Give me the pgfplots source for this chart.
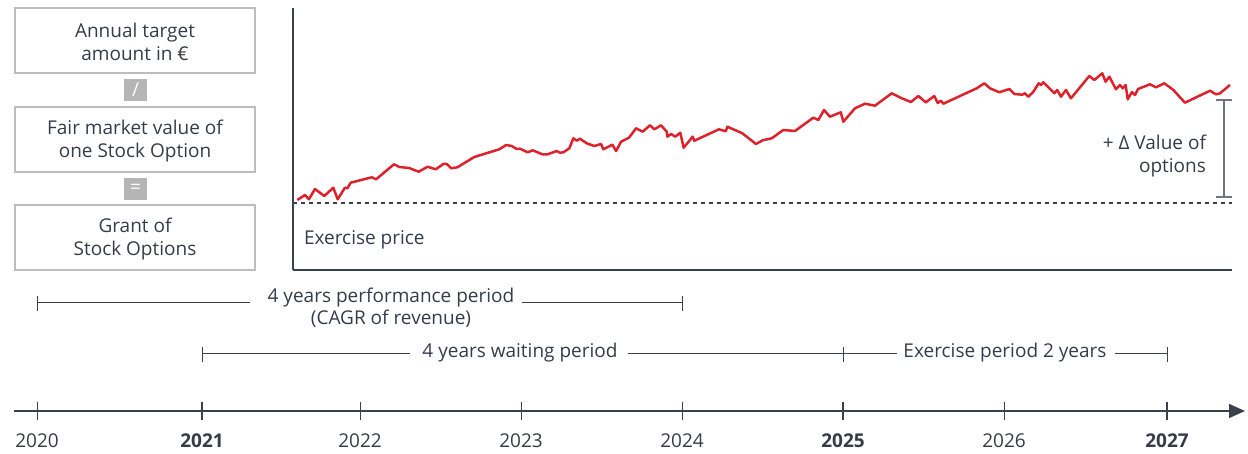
\documentclass[border=0pt]{standalone}
\usepackage{fontspec}
\setmainfont{Open Sans}
\usepackage{pgfplots}
\pgfplotsset{compat=1.18}
\usetikzlibrary{arrows.meta}
\definecolor{txt}{HTML}{353C48}
\definecolor{axcol}{HTML}{3A414C}
\definecolor{boxgray}{HTML}{BDBDBD}
\definecolor{opgray}{HTML}{B5B5B5}
\definecolor{brgray}{HTML}{6E7580}
\definecolor{pricered}{RGB}{222,34,44}
\begin{document}
\begin{tikzpicture}[font=\fontsize{9.5}{11.2}\selectfont, every node/.style={text=txt}]
\begin{axis}[at={(146.5pt,-135pt)}, anchor=south west, scale only axis,
  width=469.5pt, height=131pt,
  xmin=2021.584, xmax=2027.4055, ymin=0, ymax=262,
  axis x line=bottom, axis y line=left,
  axis line style={-, draw=axcol, line width=0.6pt},
  xtick=\empty, ytick=\empty, clip=false]
\addplot[pricered, line width=1.25pt, line join=round, mark=none] coordinates {
(2021.611,70) (2021.658,75) (2021.683,70.7) (2021.720,81) (2021.778,74)
(2021.834,82.3) (2021.861,70.7) (2021.906,82.3) (2021.921,81.7) (2021.942,87.3)
(2022.072,92.7) (2022.099,90.7) (2022.210,105.7) (2022.243,103) (2022.303,102)
(2022.363,98.3) (2022.419,103.3) (2022.469,100.7) (2022.516,106) (2022.537,106)
(2022.565,101.7) (2022.603,102.7) (2022.708,113) (2022.863,120.7) (2022.905,125)
(2022.940,124) (2022.971,121) (2022.991,121.3) (2023.039,117.7) (2023.070,119.7)
(2023.130,115.7) (2023.163,115.7) (2023.219,119) (2023.239,117.3) (2023.260,117.7)
(2023.297,121.7) (2023.322,131.7) (2023.343,129.3) (2023.363,131.3) (2023.405,126.7)
(2023.452,124) (2023.494,126) (2023.508,120.7) (2023.564,125.3) (2023.587,119)
(2023.618,128.3) (2023.667,132.3) (2023.711,141.7) (2023.752,138.3) (2023.797,144.7)
(2023.824,140.7) (2023.866,144.7) (2023.901,138.3) (2023.905,133.3) (2023.928,136)
(2023.954,133.3) (2023.985,137.3) (2024.006,122.3) (2024.062,133.3) (2024.072,129.3)
(2024.225,140.7) (2024.267,138.7) (2024.277,143.3) (2024.370,136.7) (2024.454,126)
(2024.496,129.7) (2024.552,131.7) (2024.624,140) (2024.696,139) (2024.810,152.3)
(2024.841,150) (2024.876,160) (2024.913,153.3) (2024.980,157.7) (2024.996,148.3)
(2025.068,161.7) (2025.130,166.3) (2025.192,164.3) (2025.296,176.7) (2025.358,171.7)
(2025.415,168) (2025.461,174) (2025.507,167.7) (2025.560,174) (2025.581,167)
(2025.601,169.3) (2025.616,166.3) (2025.823,181.7) (2025.870,186.7) (2025.905,181.7)
(2025.963,177.7) (2026.025,181) (2026.056,176) (2026.105,175.3) (2026.122,176.7)
(2026.143,173.3) (2026.174,178.3) (2026.207,186.7) (2026.221,185) (2026.236,187.7)
(2026.304,176.7) (2026.322,180) (2026.345,173.3) (2026.376,180) (2026.407,171.7)
(2026.521,194) (2026.552,190) (2026.601,196.7) (2026.622,188.3) (2026.645,193.3)
(2026.686,180.7) (2026.711,185) (2026.728,181.7) (2026.746,185) (2026.759,170.7)
(2026.785,178) (2026.804,175) (2026.823,181) (2026.897,185.7) (2026.934,182.7)
(2026.986,186.7) (2027.042,180) (2027.114,167.3) (2027.269,179.3) (2027.306,175.7)
(2027.331,176.7) (2027.393,185)
};
\addplot[axcol, line width=0.6pt, dash pattern=on 2pt off 2pt, mark=none] coordinates {(2021.584,67) (2027.4055,67)};
\draw[brgray, line width=0.7pt] (axis cs:2027.356,73) -- (axis cs:2027.356,170);
\draw[brgray, line width=0.7pt] (axis cs:2027.306,73) -- (axis cs:2027.406,73);
\draw[brgray, line width=0.7pt] (axis cs:2027.306,170) -- (axis cs:2027.406,170);
\end{axis}
\begin{scope}[x=0.5pt, y=-0.5pt]
% boxes
\draw[boxgray, line width=1.2pt] (15,8) rectangle (255,73);
\node[align=center] at (135,42) {Annual target\\amount in €};
\fill[opgray] (124,79) rectangle (147,101);
\node[text=white] at (135.5,90) {/};
\draw[boxgray, line width=1.2pt] (15,107) rectangle (255,172);
\node[align=center] at (135,141) {Fair market value of\\one Stock Option};
\fill[opgray] (124,178) rectangle (147,200);
\node[text=white] at (135.5,189) {=};
\draw[boxgray, line width=1.2pt] (15,205) rectangle (255,270);
\node[align=center] at (135,239) {Grant of\\Stock Options};
% chart texts
\node[anchor=west] at (297,240) {Exercise price};
\node[align=right, anchor=east] at (1213,156) {+ Δ Value of\\options};
% periods
\begin{scope}[draw=axcol, line width=0.5pt]
\draw (37,303) -- (250,303);
\draw (522,303) -- (682,303);
\draw (37,296) -- (37,311);
\draw (682,296) -- (682,311);
\node[align=center] at (391,308) {4 years performance period\\(CAGR of revenue)};
\draw (202,354) -- (410,354);
\draw (628,354) -- (843,354);
\draw (202,347) -- (202,362);
\draw (843,347) -- (843,362);
\node at (520,353) {4 years waiting period};
\draw (843,354) -- (897,354);
\draw (1115,354) -- (1167,354);
\draw (1167,347) -- (1167,362);
\node at (1005,353) {Exercise period 2 years};
\end{scope}
% timeline
\draw[axcol, line width=0.75pt, -{Triangle[length=8pt,width=7pt]}] (14,411) -- (1245,411);
\foreach \x in {37,360,521,682,1004} \draw[axcol, line width=0.5pt] (\x,402) -- (\x,420);
\foreach \x in {202,843,1167} \draw[axcol, line width=1.1pt] (\x,402) -- (\x,420);
\node at (37,441) {2020};
\node at (202,441) {\bfseries 2021};
\node at (360,441) {2022};
\node at (521,441) {2023};
\node at (682,441) {2024};
\node at (843,441) {\bfseries 2025};
\node at (1004,441) {2026};
\node at (1167,441) {\bfseries 2027};
\end{scope}
\pgfresetboundingbox
\path[x=0.5pt, y=-0.5pt] (0,0) rectangle (1248,454);
\end{tikzpicture}
\end{document}
